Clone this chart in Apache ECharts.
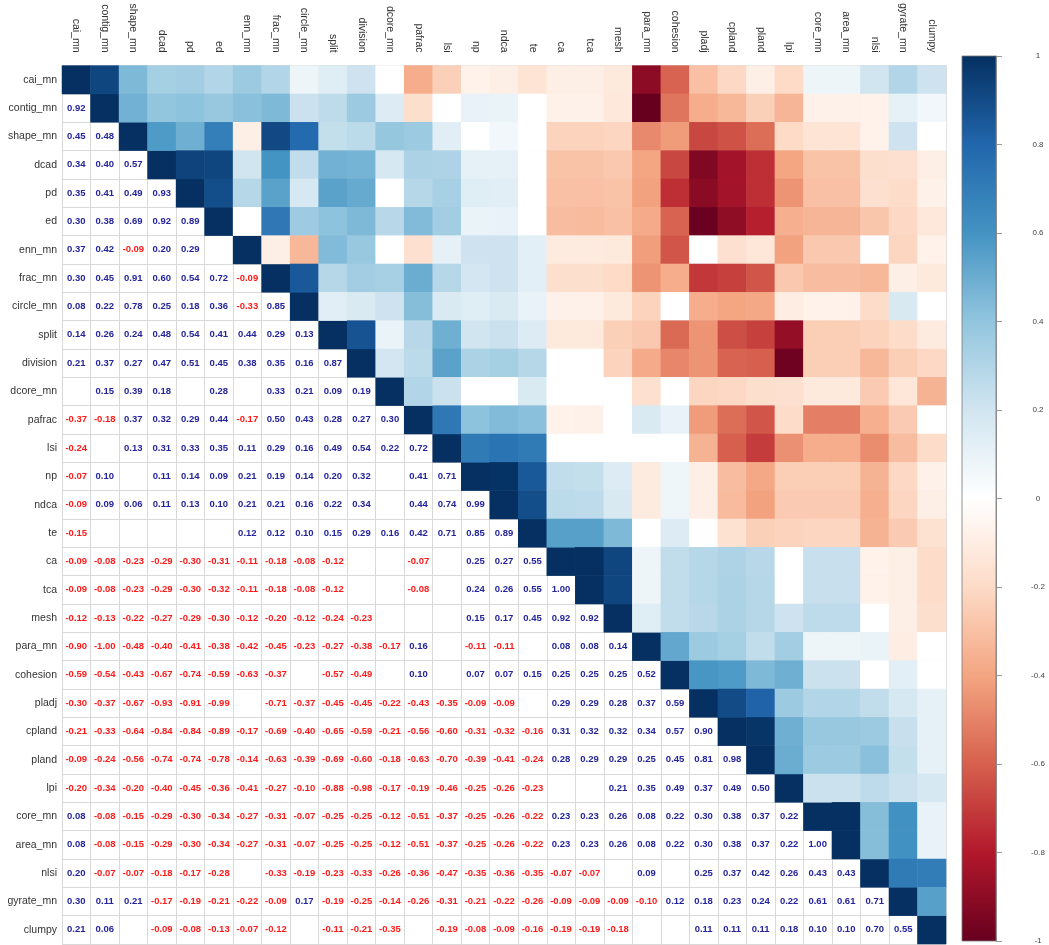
<!DOCTYPE html>
<html>
<head>
<meta charset="utf-8">
<script src="https://cdn.jsdelivr.net/npm/echarts@6/dist/echarts.min.js"></script>
<style>
html,body{margin:0;padding:0;background:#fff;}
#chart{width:1049px;height:945px;}
</style>
</head>
<body>
<div id="chart"></div>
<script>
// Variable names (row/column order)
const variables = ["cai_mn","contig_mn","shape_mn","dcad","pd","ed","enn_mn","frac_mn","circle_mn","split","division","dcore_mn","pafrac","lsi","np","ndca","te","ca","tca","mesh","para_mn","cohesion","pladj","cpland","pland","lpi","core_mn","area_mn","nlsi","gyrate_mn","clumpy"];

// Lower-triangle correlations, row by row (null = not significant, left blank)
const r_contig_mn = [0.92];
const r_shape_mn  = [0.45,0.48];
const r_dcad      = [0.34,0.40,0.57];
const r_pd        = [0.35,0.41,0.49,0.93];
const r_ed        = [0.30,0.38,0.69,0.92,0.89];
const r_enn_mn    = [0.37,0.42,-0.09,0.20,0.29,null];
const r_frac_mn   = [0.30,0.45,0.91,0.60,0.54,0.72,-0.09];
const r_circle_mn = [0.08,0.22,0.78,0.25,0.18,0.36,-0.33,0.85];
const r_split     = [0.14,0.26,0.24,0.48,0.54,0.41,0.44,0.29,0.13];
const r_division  = [0.21,0.37,0.27,0.47,0.51,0.45,0.38,0.35,0.16,0.87];
const r_dcore_mn  = [null,0.15,0.39,0.18,null,0.28,null,0.33,0.21,0.09,0.19];
const r_pafrac    = [-0.37,-0.18,0.37,0.32,0.29,0.44,-0.17,0.50,0.43,0.28,0.27,0.30];
const r_lsi       = [-0.24,null,0.13,0.31,0.33,0.35,0.11,0.29,0.16,0.49,0.54,0.22,0.72];
const r_np        = [-0.07,0.10,null,0.11,0.14,0.09,0.21,0.19,0.14,0.20,0.32,null,0.41,0.71];
const r_ndca      = [-0.09,0.09,0.06,0.11,0.13,0.10,0.21,0.21,0.16,0.22,0.34,null,0.44,0.74,0.99];
const r_te        = [-0.15,null,null,null,null,null,0.12,0.12,0.10,0.15,0.29,0.16,0.42,0.71,0.85,0.89];
const r_ca        = [-0.09,-0.08,-0.23,-0.29,-0.30,-0.31,-0.11,-0.18,-0.08,-0.12,null,null,-0.07,null,0.25,0.27,0.55];
const r_tca       = [-0.09,-0.08,-0.23,-0.29,-0.30,-0.32,-0.11,-0.18,-0.08,-0.12,null,null,-0.08,null,0.24,0.26,0.55,1.00];
const r_mesh      = [-0.12,-0.13,-0.22,-0.27,-0.29,-0.30,-0.12,-0.20,-0.12,-0.24,-0.23,null,null,null,0.15,0.17,0.45,0.92,0.92];
const r_para_mn   = [-0.90,-1.00,-0.48,-0.40,-0.41,-0.38,-0.42,-0.45,-0.23,-0.27,-0.38,-0.17,0.16,null,-0.11,-0.11,null,0.08,0.08,0.14];
const r_cohesion  = [-0.59,-0.54,-0.43,-0.67,-0.74,-0.59,-0.63,-0.37,null,-0.57,-0.49,null,0.10,null,0.07,0.07,0.15,0.25,0.25,0.25,0.52];
const r_pladj     = [-0.30,-0.37,-0.67,-0.93,-0.91,-0.99,null,-0.71,-0.37,-0.45,-0.45,-0.22,-0.43,-0.35,-0.09,-0.09,null,0.29,0.29,0.28,0.37,0.59];
const r_cpland    = [-0.21,-0.33,-0.64,-0.84,-0.84,-0.89,-0.17,-0.69,-0.40,-0.65,-0.59,-0.21,-0.56,-0.60,-0.31,-0.32,-0.16,0.31,0.32,0.32,0.34,0.57,0.90];
const r_pland     = [-0.09,-0.24,-0.56,-0.74,-0.74,-0.78,-0.14,-0.63,-0.39,-0.69,-0.60,-0.18,-0.63,-0.70,-0.39,-0.41,-0.24,0.28,0.29,0.29,0.25,0.45,0.81,0.98];
const r_lpi       = [-0.20,-0.34,-0.20,-0.40,-0.45,-0.36,-0.41,-0.27,-0.10,-0.88,-0.98,-0.17,-0.19,-0.46,-0.25,-0.26,-0.23,null,null,0.21,0.35,0.49,0.37,0.49,0.50];
const r_core_mn   = [0.08,-0.08,-0.15,-0.29,-0.30,-0.34,-0.27,-0.31,-0.07,-0.25,-0.25,-0.12,-0.51,-0.37,-0.25,-0.26,-0.22,0.23,0.23,0.26,0.08,0.22,0.30,0.38,0.37,0.22];
const r_area_mn   = [0.08,-0.08,-0.15,-0.29,-0.30,-0.34,-0.27,-0.31,-0.07,-0.25,-0.25,-0.12,-0.51,-0.37,-0.25,-0.26,-0.22,0.23,0.23,0.26,0.08,0.22,0.30,0.38,0.37,0.22,1.00];
const r_nlsi      = [0.20,-0.07,-0.07,-0.18,-0.17,-0.28,null,-0.33,-0.19,-0.23,-0.33,-0.26,-0.36,-0.47,-0.35,-0.36,-0.35,-0.07,-0.07,null,0.09,null,0.25,0.37,0.42,0.26,0.43,0.43];
const r_gyrate_mn = [0.30,0.11,0.21,-0.17,-0.19,-0.21,-0.22,-0.09,0.17,-0.19,-0.25,-0.14,-0.26,-0.31,-0.21,-0.22,-0.26,-0.09,-0.09,-0.09,-0.10,0.12,0.18,0.23,0.24,0.22,0.61,0.61,0.71];
const r_clumpy    = [0.21,0.06,null,-0.09,-0.08,-0.13,-0.07,-0.12,null,-0.11,-0.21,-0.35,null,-0.19,-0.08,-0.09,-0.16,-0.19,-0.19,-0.18,null,null,0.11,0.11,0.11,0.18,0.10,0.10,0.70,0.55];

const lowerRows = [[], r_contig_mn, r_shape_mn, r_dcad, r_pd, r_ed, r_enn_mn, r_frac_mn, r_circle_mn, r_split, r_division, r_dcore_mn, r_pafrac, r_lsi, r_np, r_ndca, r_te, r_ca, r_tca, r_mesh, r_para_mn, r_cohesion, r_pladj, r_cpland, r_pland, r_lpi, r_core_mn, r_area_mn, r_nlsi, r_gyrate_mn, r_clumpy];

// Colour-bar ticks
const colorbarTicks = [-1,-0.8,-0.6,-0.4,-0.2,0,0.2,0.4,0.6,0.8,1];
const rdbu = ["#67001F","#B2182B","#D6604D","#F4A582","#FDDBC7","#FFFFFF","#D1E5F0","#92C5DE","#4393C3","#2166AC","#053061"];

const n = variables.length;
const upperData = [];   // [col, row, value] for diagonal + upper triangle
const lowerData = [];   // [col, row, value] numbers in lower triangle
for (let i = 0; i < n; i++) {
  upperData.push([i, i, 1]);
  for (let j = 0; j < i; j++) {
    const v = lowerRows[i][j];
    if (v !== null) lowerData.push([j, i, v]);
    // mirrored cell in upper triangle: row j, column i (blank -> white)
    upperData.push([i, j, v === null ? 0 : v]);
  }
}

const chart = echarts.init(document.getElementById('chart'));
const FONT = '"Liberation Sans", Arial, sans-serif';
const gridCol = '#d9d9d9';

chart.setOption({
  backgroundColor: '#fff',
  animation: false,
  grid: [
    {left: 62, top: 60, width: 884, height: 884},
    {left: 962, top: 56, width: 34, height: 887}
  ],
  xAxis: [
    {
      type: 'category', data: variables, position: 'top', gridIndex: 0,
      axisLine: {show: false}, axisTick: {show: false},
      splitLine: {show: true, interval: 0, lineStyle: {color: gridCol, width: 1}},
      axisLabel: {rotate: 90, interval: 0, fontSize: 10.5, color: '#333', fontFamily: FONT, margin: 13}
    },
    {type: 'category', data: ['cb'], gridIndex: 1, show: false}
  ],
  yAxis: [
    {
      type: 'category', data: variables, inverse: true, gridIndex: 0,
      axisLine: {show: false}, axisTick: {show: false},
      splitLine: {show: true, interval: 0, lineStyle: {color: gridCol, width: 1}},
      axisLabel: {interval: 0, fontSize: 10.5, color: '#333', fontFamily: FONT, margin: 5}
    },
    {
      type: 'value', gridIndex: 1, min: -1, max: 1, interval: 0.2, position: 'right',
      axisLine: {show: true, lineStyle: {color: '#999'}},
      axisTick: {show: true, length: 6, lineStyle: {color: '#999'}},
      splitLine: {show: false},
      axisLabel: {fontSize: 8, color: '#444', fontFamily: FONT, margin: 42, align: 'center',
        formatter: v => String(+(+v).toFixed(1))}
    }
  ],
  visualMap: {
    show: false, type: 'continuous', min: -1, max: 1, dimension: 2, seriesIndex: 0,
    inRange: {color: rdbu}
  },
  series: [
    {
      type: 'heatmap', xAxisIndex: 0, yAxisIndex: 0, data: upperData,
      itemStyle: {borderWidth: 0}, emphasis: {disabled: true}, label: {show: false}
    },
    {
      type: 'custom', xAxisIndex: 0, yAxisIndex: 0, data: lowerData, silent: true,
      renderItem: function (params, api) {
        const p = api.coord([api.value(0), api.value(1)]);
        const v = api.value(2);
        return {
          type: 'text', x: p[0], y: p[1],
          style: {
            text: v.toFixed(2), fill: v < 0 ? '#ff1a1a' : '#24249c',
            font: 'bold 9.5px ' + FONT, align: 'center', verticalAlign: 'middle'
          }
        };
      }
    },
    {
      type: 'custom', xAxisIndex: 1, yAxisIndex: 1, data: [[0, 0]], silent: true,
      renderItem: function (params, api) {
        const top = api.coord([0, colorbarTicks[colorbarTicks.length - 1]]);
        const bot = api.coord([0, colorbarTicks[0]]);
        const w = api.size([1, 0])[0];
        const stops = rdbu.slice().reverse().map((c, k) => ({offset: k / (rdbu.length - 1), color: c}));
        return {
          type: 'rect',
          shape: {x: top[0] - w / 2, y: top[1], width: w, height: bot[1] - top[1]},
          style: {fill: new echarts.graphic.LinearGradient(0, 0, 0, 1, stops), stroke: '#777', lineWidth: 0.8}
        };
      }
    }
  ]
});
</script>
</body>
</html>
